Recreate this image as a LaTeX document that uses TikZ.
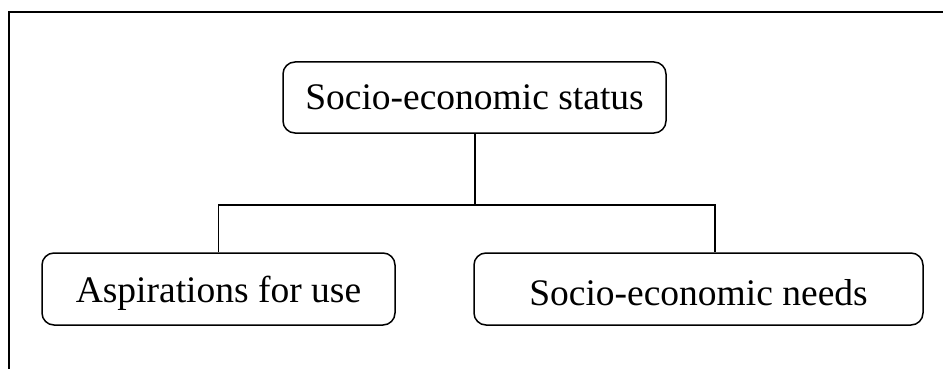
\documentclass[tikz,border=0pt]{standalone}
\usepackage{fontspec}
\setmainfont{Liberation Serif}
\begin{document}
\begin{tikzpicture}[x=1pt,y=-1pt,
  box/.style={draw, line width=1.5pt, rounded corners=12pt, inner sep=0pt},
  label/.style={font=\fontsize{37.5}{42}\selectfont},
  link/.style={line width=1.5pt},
  frameline/.style={line width=2pt}]
\useasboundingbox (0,0) rectangle (943,369);
% open frame: top and left edges only
\draw[frameline] (9,369) -- (9,12) -- (943,12);
% boxes
\node[box, minimum width=383pt, minimum height=71pt] (status) at (474.5,97.5) {};
\node[box, minimum width=353pt, minimum height=72pt] (asp) at (218.5,289) {};
\node[box, minimum width=449pt, minimum height=72pt] (needs) at (698.5,289) {};
% box texts
\node[label] at (status.center) {Socio-economic status};
\node[label] at ([yshift=-4pt]asp.center) {Aspirations for use};
\node[label] at ([yshift=-4pt]needs.center) {Socio-economic needs};
% branching connector
\coordinate (split) at (475,205);
\coordinate (rdrop) at (715,205);
\draw[link] (status.south -| split) -- (split);
\draw[link] (asp.north) |- (rdrop) -- (rdrop |- needs.north);
\end{tikzpicture}
\end{document}
